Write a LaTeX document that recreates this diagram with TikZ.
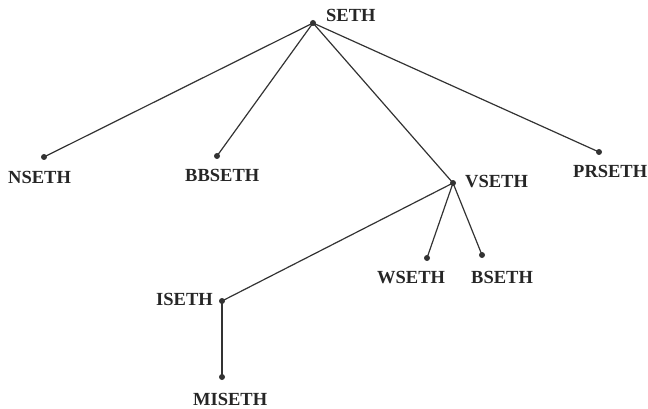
\documentclass[tikz,border=0pt]{standalone}
\usepackage{fontspec}
\setmainfont{Liberation Serif}
\begin{document}
\begin{tikzpicture}[x=1pt,y=-1pt,
  dot/.style={circle,fill=black!80,inner sep=0pt,minimum size=6pt},
  lbl/.style={anchor=base west,inner sep=0pt,font=\fontsize{18.5}{18.5}\selectfont\bfseries,text=black!85},
  edge/.style={draw=black!80,line width=1.2pt}]
\useasboundingbox (0,0) rectangle (648,409);
% tree points
\node[dot] (seth) at (313,23) {};
\node[dot] (nseth) at (44,157) {};
\node[dot] (bbseth) at (217,156) {};
\node[dot] (vseth) at (453,183) {};
\node[dot] (prseth) at (599,152) {};
\node[dot] (wseth) at (427,258) {};
\node[dot] (bseth) at (482,255) {};
\node[dot] (iseth) at (222,301) {};
\node[dot] (miseth) at (222,377) {};
% labels
\node[lbl] (lseth) at (326,22) {SETH};
\node[lbl] (lnseth) at (8,183) {NSETH};
\node[lbl] (lbbseth) at (185,182) {BBSETH};
\node[lbl] (lvseth) at (465,187) {VSETH};
\node[lbl] (lprseth) at (573,178) {PRSETH};
\node[lbl] (lwseth) at (377,283) {WSETH};
\node[lbl] (lbseth) at (471,283) {BSETH};
\node[lbl,anchor=base east] (liseth) at (213,305) {ISETH};
\node[lbl] (lmiseth) at (193,405) {MISETH};
% branches
\draw[edge] (seth.center) -- (nseth.center);
\draw[edge] (seth.center) -- (bbseth.center);
\draw[edge] (seth.center) -- (vseth.center);
\draw[edge] (seth.center) -- (prseth.center);
\draw[edge] (vseth.center) -- (wseth.center);
\draw[edge] (vseth.center) -- (bseth.center);
\draw[edge] (vseth.center) -- (iseth.center);
\draw[edge] (iseth.center) -- (miseth.center);
\end{tikzpicture}
\end{document}
